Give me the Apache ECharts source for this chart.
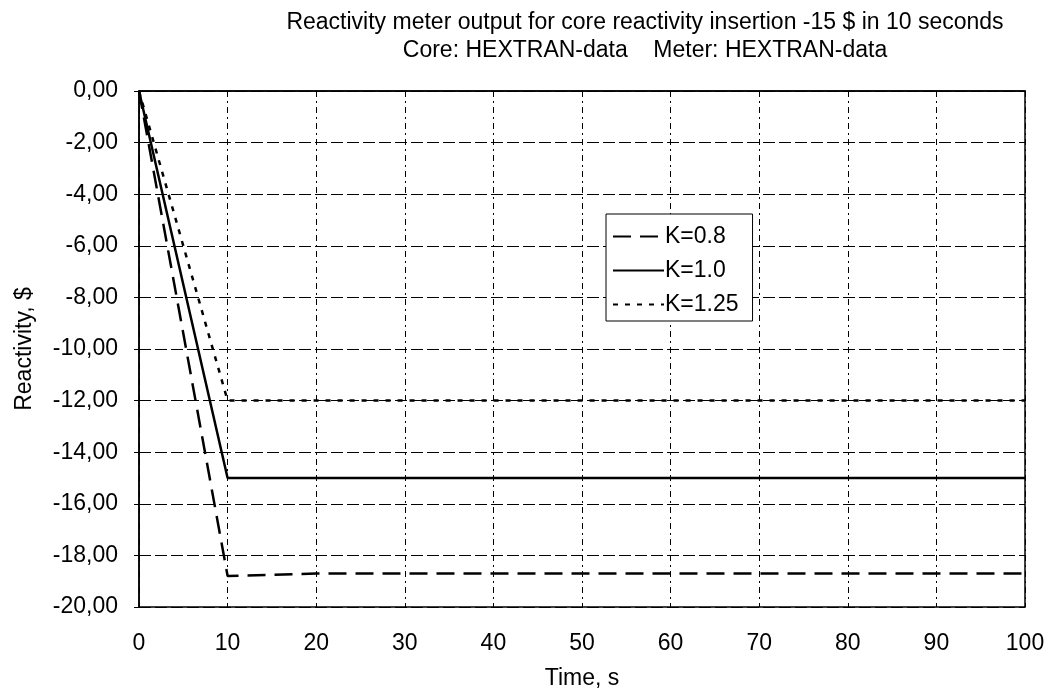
<!DOCTYPE html>
<html>
<head>
<meta charset="utf-8">
<script src="https://cdn.jsdelivr.net/npm/echarts@6/dist/echarts.min.js"></script>
<style>
  html, body { margin: 0; padding: 0; background: #fff; }
  #main { width: 1050px; height: 695px; }
</style>
</head>
<body>
<div id="main"></div>
<script>
// data
var seriesNames = ['K=0.8', 'K=1.0', 'K=1.25'];
var timeK08 = [0, 10, 15, 20, 100];
var rhoK08 = [0, -18.8, -18.75, -18.7, -18.7];
var timeK10 = [0, 10, 100];
var rhoK10 = [0, -15, -15];
var timeK125 = [0, 10, 100];
var rhoK125 = [0, -12, -12];

function pairs(xs, ys) {
    var out = [];
    for (var i = 0; i < xs.length; i++) {
        out.push([xs[i], ys[i]]);
    }
    return out;
}

var font = 'Liberation Sans, Arial, sans-serif';
var myChart = echarts.init(document.getElementById('main'));
var option = {
    backgroundColor: '#fff',
    animation: false,
    title: {
        text: 'Reactivity meter output for core reactivity insertion -15 $ in 10 seconds\nCore: HEXTRAN-data    Meter: HEXTRAN-data',
        left: 640,
        textAlign: 'center',
        top: 4,
        textStyle: {
            fontFamily: font,
            fontSize: 23,
            fontWeight: 'normal',
            color: '#000',
            lineHeight: 28
        }
    },
    grid: {
        left: 139,
        right: 25,
        top: 91,
        bottom: 85,
        show: true,
        borderColor: '#000',
        borderWidth: 1.5
    },
    legend: {
        orient: 'vertical',
        left: 606,
        top: 214,
        padding: [11, 14, 5, 6],
        itemGap: 11,
        itemWidth: 51,
        itemHeight: 14,
        backgroundColor: '#fff',
        borderColor: '#000',
        borderWidth: 1,
        itemStyle: { opacity: 0 },
        textStyle: {
            fontFamily: font,
            fontSize: 23,
            color: '#000',
            padding: [0, 0, 0, -4]
        },
        data: seriesNames
    },
    xAxis: {
        type: 'value',
        min: 0,
        max: 100,
        interval: 10,
        name: 'Time, s',
        nameLocation: 'middle',
        nameGap: 60,
        nameTextStyle: { fontFamily: font, fontSize: 23, color: '#000' },
        axisLine: { show: true, lineStyle: { color: '#000', width: 1.5 } },
        axisTick: { show: true, length: 5, lineStyle: { color: '#000' } },
        axisLabel: { fontFamily: font, fontSize: 23, color: '#000', margin: 25 },
        splitLine: { show: true, lineStyle: { color: '#000', width: 1, type: [6, 4, 2, 4] } }
    },
    yAxis: {
        type: 'value',
        min: -20,
        max: 0,
        interval: 2,
        name: 'Reactivity, $',
        nameLocation: 'middle',
        nameGap: 103,
        nameTextStyle: { fontFamily: font, fontSize: 23, color: '#000' },
        axisLine: { show: true, lineStyle: { color: '#000', width: 1.5 } },
        axisTick: { show: true, length: 5, lineStyle: { color: '#000' } },
        axisLabel: {
            fontFamily: font,
            fontSize: 23,
            color: '#000',
            margin: 21,
            formatter: function (v) {
                return v.toFixed(2).replace('.', ',');
            }
        },
        splitLine: { show: true, lineStyle: { color: '#000', width: 1, type: [12, 4] } }
    },
    series: [
        {
            name: 'K=0.8',
            type: 'line',
            symbol: 'none',
            data: pairs(timeK08, rhoK08),
            lineStyle: { color: '#000', width: 2.5, type: [18, 9] },
            itemStyle: { color: '#000' }
        },
        {
            name: 'K=1.0',
            type: 'line',
            symbol: 'none',
            data: pairs(timeK10, rhoK10),
            lineStyle: { color: '#000', width: 2.5, type: 'solid' },
            itemStyle: { color: '#000' }
        },
        {
            name: 'K=1.25',
            type: 'line',
            symbol: 'none',
            data: pairs(timeK125, rhoK125),
            lineStyle: { color: '#000', width: 2.5, type: [5, 7] },
            itemStyle: { color: '#000' }
        }
    ]
};
myChart.setOption(option);
</script>
</body>
</html>
